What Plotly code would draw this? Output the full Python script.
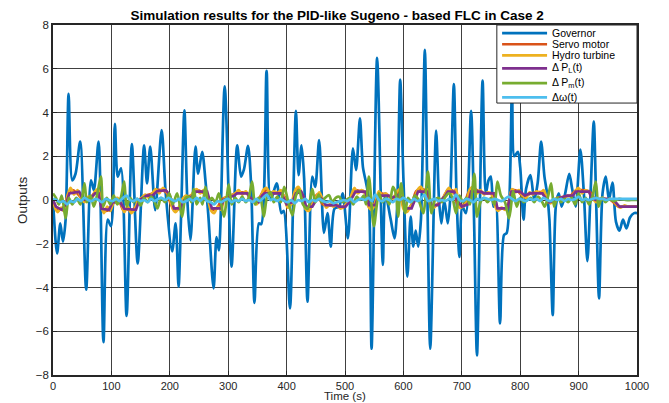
import plotly.graph_objects as go

# ---- data ----
gov_t = [0, 7, 12.5, 17, 21.6, 26.7, 33, 38.6, 46.6, 56.8, 65, 70, 78, 86.4, 93.8, 99.4, 106, 110.8, 116.5, 126,
         135, 145, 156, 161, 166.5, 175, 186, 193, 204, 210, 215, 219, 225, 230, 235.4, 244, 248.6, 255.4, 261, 265.7,
         275, 280, 284, 294, 305.7, 315.4, 322, 327, 334, 339.4, 345, 352.6, 356.6, 365.7, 372.6, 383, 391, 395,
         405.7, 411, 416, 420.5, 425.6, 430, 435.8, 444, 449, 455.7, 464, 470, 475.6, 482, 490, 496, 505,
         513.6, 519, 525.6, 530.7, 536, 541, 545.5, 555, 564.8, 569, 578, 584.7, 589, 594.5, 600, 606.8, 612.4,
         617, 621, 625.4, 630, 636.7, 641, 646, 656, 661, 665, 670, 676, 680, 686.4, 691, 696, 701, 707, 715.8,
         721, 726, 735.6, 741, 745.8, 749.7, 754, 758, 765.5, 772.3, 777, 786, 790, 796, 800, 805.7, 810, 817.6,
         824, 830, 835.8, 841.5, 846, 850, 855.7, 861, 866, 871, 877, 884, 889, 895, 903, 909, 915, 920, 926,
         930, 935, 941, 946.6, 952, 958, 964, 970, 976, 982, 988, 995, 1000]
gov_v = [0, -2.44, -1.07, -1.9, -0.9, 4.85, 0.9, 1.2, 2.67, -4.1, 0.9, 0.45, 2.67, -6.5, -0.9, -1.2, 3.48, 1.07, 1.45, -5.3,
         2.56, -2.9, 2.5, 0.76, 2.44, -0.46, 3.2, 0.3, -2.35, -1.07, -3.96, -1.0, 4.1, 0.0, -1.83, 2.44, 1.2, 2.2, 0.9, -0.6,
         -4.04, -1.7, -2.3, 5.2, -3.05, 2.5, 1.07, 1.4, 2.47, 0.6, -4.7, -1.07, -1.1, 5.9, 0.0, 0.76, -0.6, -0.5,
         -4.95, -0.3, 4.08, 1.14, 2.5, 1.0, -4.65, 1.07, 0.6, 2.74, -1.5, -0.6, -2.13, -0.4, -0.3, 0.3, -1.75,
         2.36, 1.37, 3.73, 1.5, 0.8, 0.0, -6.8, 6.5, -2.97, 0.3, -0.85, -1.75, -0.5, 5.5, 1.0, -3.5, -0.76,
         -2.13, -1.4, -2.13, -0.9, 6.86, 0.3, -6.8, 3.17, 0.0, -1.07, 0.0, -1.07, 0.0, 5.3, 0.2, -2.6, -0.3, -0.6, 4.08,
         -0.9, -7.1, 5.46, 0.3, 0.9, 1.07, -0.3, 0.0, -5.64, -1.6, -1.5, 5.0, 2.0, 2.2, 1.5, -0.9, 0.5, 1.14,
         0.0, 0.8, 2.67, 1.07, 0.3, -0.9, -5.26, -0.3, 0.3, -0.3, 0.3, 1.2, 0.5, -0.3, 2.3, 0.3, -2.8, 0.0, 3.58,
         0.0, -4.5, 0.3, 1.07, 0.0, 0.8, -1.0, -1.4, -0.9, -1.3, -0.8, -0.6, -0.6]

servo_t = [0, 4, 8, 14, 20, 26, 32, 40, 48, 56, 64, 72, 78, 84, 90, 98, 106, 114, 120, 126, 134, 142, 150, 160,
           170, 178, 186, 194, 202, 208, 216, 224, 236, 246, 256, 266, 272, 280, 290, 300, 312, 320, 332, 340, 350,
           358, 366, 376, 388, 398, 404, 412, 420, 428, 434, 442, 452, 462, 470, 484, 496, 506, 516, 526, 536, 542,
           550, 558, 570, 582, 592, 600, 606, 614, 622, 630, 640, 648, 658, 668, 676, 686, 694, 702, 714, 722, 732,
           742, 752, 760, 768, 778, 786, 796, 806, 818, 830, 840, 848, 860, 874, 886, 896, 906, 918, 928, 940, 955,
           968, 980, 1000]
servo_v = [0, -0.3, -0.5, -0.4, -0.3, 0.3, 0.45, 0.35, 0.1, -0.05, 0.1, 0.35, 0.45, -0.3, -0.5, -0.4, -0.05, -0.1,
           -0.45, -0.4, -0.5, -0.3, 0.05, 0.2, 0.3, 0.45, 0.45, 0.35, -0.2, -0.45, -0.4, 0.1, 0.2, 0.45, 0.35, 0.15,
           -0.45, -0.4, 0.05, 0.15, 0.3, 0.35, 0.3, -0.05, -0.05, 0.3, 0.45, 0.3, 0.35, 0.1, -0.3, 0.0, 0.5, 0.2,
           -0.4, -0.3, 0.25, -0.2, -0.25, -0.25, -0.35, -0.1, 0.45, 0.4, 0.3, -0.35, -0.2, 0.3, 0.25, 0.1, 0.4,
           -0.3, -0.45, -0.2, 0.4, 0.5, 0.4, -0.35, -0.2, 0.1, 0.45, 0.4, -0.3, -0.25, 0.45, 0.5, 0.35, 0.3, 0.3,
           -0.4, -0.4, -0.35, 0.45, 0.4, 0.15, 0.3, 0.35, 0.35, -0.1, 0.05, 0.15, 0.2, 0.45, 0.45, 0.4, 0.05,
           0.05, 0.0, -0.3, -0.3, -0.3]

hydro_t = [0, 4, 8, 14, 18, 24, 30, 36, 42, 48, 54, 60, 66, 72, 77, 82, 87, 93, 98, 104, 110, 116, 122, 128, 134,
           140, 146, 152, 158, 164, 170, 176, 182, 188, 194, 200, 205, 210, 216, 222, 228, 234, 240, 246, 252, 258,
           264, 270, 276, 282, 288, 294, 300, 306, 312, 318, 324, 330, 336, 342, 348, 354, 360, 366, 372, 378, 384,
           390, 396, 402, 408, 414, 420, 426, 432, 438, 444, 450, 456, 462, 468, 474, 480, 486, 492, 498, 504, 510,
           516, 522, 528, 534, 540, 546, 552, 558, 564, 570, 576, 582, 588, 594, 600, 606, 612, 618, 624, 630, 636,
           642, 648, 654, 660, 666, 672, 678, 684, 690, 696, 702, 708, 714, 720, 726, 732, 738, 744, 750, 756, 762,
           768, 774, 780, 786, 792, 798, 804, 810, 816, 822, 828, 834, 840, 846, 852, 858, 864, 870, 876, 882, 888,
           894, 900, 906, 912, 918, 924, 930, 936, 942, 948, 954, 960, 966, 972, 978, 984, 990, 1000]
hydro_v = [0, -0.4, -0.55, -0.35, -0.5, 0.1, 0.55, 0.25, 0.45, 0.1, -0.1, 0.15, 0.05, 0.4, 0.5, -0.2, -0.6, -0.3,
           -0.5, -0.05, 0.1, -0.1, -0.55, -0.3, -0.6, -0.4, 0.0, 0.1, 0.25, 0.1, 0.3, 0.5, 0.3, 0.55, 0.4, 0.1, -0.4,
           -0.55, -0.3, 0.05, 0.2, 0.1, 0.35, 0.5, 0.3, 0.45, 0.2, -0.45, -0.6, -0.3, -0.45, 0.1, 0.05, 0.2, 0.3,
           0.45, 0.25, 0.4, 0.15, -0.05, -0.2, 0.0, 0.45, 0.55, 0.25, 0.4, 0.3, 0.45, 0.1, -0.35, -0.2, 0.4, 0.6,
           0.3, -0.4, -0.5, -0.2, 0.1, 0.35, 0.0, -0.35, -0.2, -0.3, -0.2, -0.4, -0.3, -0.1, 0.15, 0.55, 0.3, 0.45,
           0.35, -0.3, -0.45, -0.1, 0.4, 0.2, 0.3, 0.15, 0.05, 0.35, 0.5, -0.4, -0.55, -0.3, -0.1, 0.45, 0.6, 0.3,
           0.5, -0.4, -0.3, -0.15, 0.0, 0.3, 0.55, 0.3, 0.5, -0.35, -0.3, -0.1, 0.5, 0.6, 0.3, 0.45, 0.25, 0.35,
           0.3, -0.2, -0.5, -0.35, -0.45, -0.1, 0.5, 0.35, 0.45, 0.2, 0.1, 0.35, 0.25, 0.4, 0.3, 0.45, 0.05, -0.15,
           0.0, 0.1, 0.0, 0.1, 0.2, 0.15, 0.4, 0.55, 0.3, 0.45, 0.35, 0.1, -0.1, 0.05, 0.1, 0.0, 0.05, -0.05, -0.25,
           -0.35, -0.25, -0.3, -0.3, -0.3]

pl_t = [0, 5, 15, 22, 28, 45, 50, 55, 65, 72, 78, 83, 96, 102, 115, 122, 142, 148, 155, 160, 170, 178, 193, 198,
        203, 207, 218, 225, 235, 245, 264, 268, 272, 287, 292, 300, 310, 315, 333, 338, 345, 352, 358, 362, 390,
        395, 400, 410, 416, 425, 430, 433, 444, 450, 455, 462, 467, 484, 490, 501, 510, 518, 535, 538, 541, 552,
        556, 560, 575, 580, 590, 598, 603, 614, 620, 625, 642, 645, 648, 659, 665, 672, 676, 687, 692, 700, 710,
        716, 733, 738, 755, 758, 761, 778, 782, 785, 800, 808, 816, 838, 843, 850, 860, 870, 880, 890, 895, 918,
        922, 930, 940, 950, 960, 970, 1000]
pl_v = [0, -0.3, -0.45, -0.2, 0.3, 0.38, 0.1, 0.0, 0.1, 0.3, 0.3, -0.4, -0.45, -0.1, -0.1, -0.4, -0.45, 0.0, 0.1,
        0.2, 0.2, 0.4, 0.45, 0.3, 0.0, -0.38, -0.38, 0.0, 0.1, 0.38, 0.38, 0.0, -0.38, -0.38, 0.0, 0.1, 0.2, 0.3,
        0.3, 0.1, 0.0, -0.1, 0.2, 0.3, 0.3, 0.1, -0.2, -0.1, 0.3, 0.38, 0.1, -0.3, -0.3, 0.0, 0.2, 0.0, -0.23,
        -0.23, -0.3, -0.3, 0.0, 0.38, 0.38, 0.0, -0.23, -0.23, 0.1, 0.2, 0.2, 0.1, 0.2, 0.1, -0.38, -0.38, 0.0,
        0.38, 0.38, 0.0, -0.23, -0.23, 0.0, 0.2, 0.38, 0.38, 0.0, -0.3, -0.2, 0.38, 0.38, 0.3, 0.3, 0.0, -0.38,
        -0.38, 0.0, 0.38, 0.38, 0.2, 0.3, 0.3, 0.1, -0.1, 0.0, 0.1, 0.2, 0.2, 0.38, 0.38, 0.1, 0.0, 0.05, 0.05,
        0.0, -0.3, -0.3]

pm_t = [0, 5, 10, 15, 21.6, 27, 33, 40, 47, 54, 58, 64, 70, 76, 82, 86, 92, 98, 104, 110, 116, 122, 126, 132,
        138, 144, 150, 156, 162, 168, 174, 179, 185, 192, 199, 205, 212.6, 221, 227, 232.6, 237, 241, 246, 252,
        256, 261, 266, 272, 278, 284, 292.6, 301, 306, 312, 318, 324, 330, 335, 341, 346, 352, 356, 361, 367,
        372.6, 378, 384, 390, 396, 403, 410, 416, 421.6, 428, 436, 444, 449, 455, 460, 466, 472.7, 478, 484, 490,
        496, 502, 508, 514, 520, 526, 532, 536, 541, 549.4, 558, 564, 570, 576, 582, 587, 591, 596, 603, 608,
        614, 620, 626, 634, 642, 648, 654, 660, 666, 672, 678, 684, 690, 696, 702, 708, 714, 721.5, 726, 732,
        738, 744, 750, 756, 761, 767, 774, 781, 788, 794, 800, 806, 812, 818, 824, 830, 836, 842, 848, 853,
        858, 864, 870, 876, 882, 888, 894, 900, 906, 912, 918, 924, 929.5, 934, 940, 946, 952, 960, 970, 980,
        990, 1000]
pm_v = [0.3, 0.1, -0.2, 0.2, -0.84, 0.1, -0.2, 0.1, -0.2, 0.76, -0.1, 0.2, -0.3, 0.3, 1.07, -0.3, 0.1, -0.2, 0.2,
        -0.2, 0.1, 0.84, -0.3, 0.1, -0.1, 0.05, -0.25, 0.1, -0.1, 0.15, -0.1, -0.38, 0.1, -0.1, 0.3, -0.2, 0.3,
        -0.76, 0.1, 0.15, -0.1, 0.5, -0.2, 0.1, -0.2, 0.6, -0.1, 0.1, -0.1, 0.3, -0.76, 0.7, -0.2, 0.1, -0.1,
        0.15, -0.1, 0.1, 0.84, -0.2, 0.1, 0.0, -0.76, 0.2, 0.35, -0.1, 0.15, -0.1, 0.6, -0.1, -0.7, 0.2, 0.45,
        -0.2, -0.4, 0.5, -0.1, 0.25, -0.1, 0.1, 0.22, -0.1, 0.1, 0.15, -0.1, 0.0, 0.1, -0.2, 0.15, 0.0, 0.2,
        -0.2, 1.07, -1.2, 0.3, -0.1, 0.1, -0.2, 0.6, 0.3, -0.76, 0.76, -0.6, 0.1, -0.1, 0.2, 0.0, -0.6, 1.3,
        -0.6, 0.0, 0.1, -0.1, 0.15, 0.3, 0.1, -0.6, 0.2, -0.1, 0.1, -0.2, 1.2, -0.76, -0.1, 0.1, -0.1, 0.1,
        -0.2, 0.84, 0.2, -0.1, -0.84, 0.4, -0.3, 0.1, -0.1, 0.0, 0.1, -0.1, 0.15, 0.0, -0.3, 0.2, 0.76, -0.3,
        0.1, -0.1, 0.05, -0.1, 0.1, -0.2, 0.3, -0.1, 0.1, -0.2, 0.2, 0.84, -0.3, 0.1, -0.1, 0.05, -0.05, 0.05,
        0.0, 0.0, 0.0]

dw_t = [0, 6, 12, 18, 24, 30, 36, 42, 48, 54, 60, 66, 72, 78, 84, 90, 96, 102, 108, 114, 120, 126, 132, 138, 144,
        150, 156, 162, 168, 174, 180, 186, 192, 198, 204, 210, 216, 222, 228, 234, 240, 246, 252, 258, 264, 270,
        276, 282, 288, 294, 300, 306, 312, 318, 324, 330, 336, 342, 348, 354, 360, 366, 372, 378, 384, 390, 396,
        402, 408, 414, 420, 426, 432, 438, 444, 450, 456, 462, 468, 474, 480, 486, 492, 498, 504, 510, 516, 522,
        528, 534, 540, 546, 552, 558, 564, 570, 576, 582, 588, 594, 600, 606, 612, 618, 624, 630, 636, 642, 648,
        654, 660, 666, 672, 678, 684, 690, 696, 702, 708, 714, 720, 726, 732, 738, 744, 750, 756, 762, 768, 774,
        780, 786, 792, 798, 804, 810, 816, 822, 828, 834, 840, 846, 852, 858, 864, 870, 876, 882, 888, 894, 900,
        906, 912, 918, 924, 930, 936, 942, 948, 954, 960, 966, 972, 978, 984, 990, 996, 1000]
dw_v = [0.05, 0.0, -0.1, -0.05, -0.2, -0.05, -0.1, 0.05, -0.05, 0.1, 0.0, -0.05, 0.05, 0.0, -0.1, 0.05, 0.0, -0.05,
        0.05, -0.05, 0.1, 0.2, 0.0, -0.05, 0.05, -0.05, 0.0, -0.1, 0.05, -0.05, 0.05, 0.1, 0.0, 0.1, 0.0, -0.05,
        0.05, -0.1, -0.05, 0.05, -0.05, 0.1, -0.05, 0.1, -0.05, -0.1, -0.2, -0.05, -0.1, 0.0, 0.05, -0.1, 0.0,
        -0.05, 0.05, -0.05, 0.0, -0.1, 0.05, -0.05, 0.1, 0.25, 0.0, 0.05, -0.05, 0.05, -0.05, -0.1, 0.0, -0.15,
        0.0, -0.05, 0.05, -0.1, 0.0, -0.05, 0.05, -0.05, -0.1, -0.05, -0.15, -0.1, -0.05, 0.0, -0.05, 0.05, -0.1,
        0.0, 0.05, 0.0, 0.1, -0.05, 0.25, 0.0, -0.05, 0.05, 0.0, -0.1, 0.05, 0.0, 0.1, 0.0, -0.1, 0.05, -0.05,
        0.05, 0.25, -0.05, 0.0, 0.05, -0.05, 0.0, -0.05, 0.05, 0.0, 0.25, 0.0, -0.05, 0.05, 0.0, -0.1, 0.05, 0.0,
        0.1, 0.05, 0.0, 0.05, 0.0, -0.05, 0.05, 0.15, 0.05, -0.05, 0.05, 0.0, -0.05, 0.05, 0.0, 0.05, -0.05, 0.1,
        0.0, -0.05, 0.05, 0.0, 0.05, -0.05, 0.05, 0.0, 0.05, 0.15, 0.0, 0.05, 0.0, 0.05, 0.1, 0.05, 0.05, 0.0,
        0.05, 0.05, 0.05, 0.05, 0.05, 0.05, 0.05, 0.05, 0.05]

names = ["Governor", "Servo motor", "Hydro turbine", "Δ P<sub>L</sub>(t)", "Δ P<sub>m</sub>(t)", "Δω(t)"]
colors = ["#0072BD", "#D95319", "#EDB120", "#7E2F8E", "#77AC30", "#4DBEEE"]
series = [(gov_t, gov_v), (servo_t, servo_v), (hydro_t, hydro_v), (pl_t, pl_v), (pm_t, pm_v), (dw_t, dw_v)]
shapes_line = ["spline", "spline", "spline", "linear", "spline", "spline"]

x_ticks = [0, 100, 200, 300, 400, 500, 600, 700, 800, 900, 1000]
y_ticks = [-8, -6, -4, -2, 0, 2, 4, 6, 8]

fig = go.Figure()
for (t, v), n, c, s in zip(series, names, colors, shapes_line):
    fig.add_trace(go.Scatter(x=t, y=v, mode="lines", name=n, showlegend=False,
                             line=dict(color=c, width=2.7, shape=s, smoothing=0.8 if s == "spline" else None)))

font = "Liberation Sans, Arial, sans-serif"
axis_common = dict(showline=True, linecolor="#262626", linewidth=1.5, mirror=True, automargin=False,
                   showgrid=True, gridcolor="rgba(30,30,30,0.85)", gridwidth=1,
                   ticks="inside", ticklen=4, tickcolor="#262626", zeroline=False)
fig.update_xaxes(range=[0, 1000], tickvals=x_ticks, **axis_common,
                 tickfont=dict(family=font, size=11, color="#262626"))
fig.update_yaxes(range=[-8, 8], tickvals=y_ticks, **axis_common,
                 tickfont=dict(family=font, size=11.5, color="#262626"))

# legend drawn as a compact box (layout decoration, paper coordinates)
leg_x0, leg_x1, leg_y0, leg_y1 = 0.760, 1.0, 0.777, 1.0
row_y = [0.977, 0.945, 0.913, 0.876, 0.834, 0.793]
line_x0, line_x1, text_x = 0.769, 0.846, 0.851
shapes = [dict(type="rect", xref="paper", yref="paper", x0=leg_x0, x1=leg_x1, y0=leg_y0, y1=leg_y1,
               fillcolor="white", line=dict(color="#262626", width=1), layer="above")]
annotations = []
for n, c, ry in zip(names, colors, row_y):
    shapes.append(dict(type="line", xref="paper", yref="paper", x0=line_x0, x1=line_x1, y0=ry, y1=ry,
                       line=dict(color=c, width=2.7), layer="above"))
    annotations.append(dict(text=n, xref="paper", yref="paper", x=text_x, y=ry, xanchor="left",
                            yanchor="middle", showarrow=False,
                            font=dict(family=font, size=10.5, color="black")))

# axis titles
annotations.append(dict(text="Time (s)", xref="paper", yref="paper", x=0.5, y=-0.061, xanchor="center",
                        yanchor="middle", showarrow=False, font=dict(family=font, size=11.5, color="#262626")))
annotations.append(dict(text="Outputs", xref="paper", yref="paper", x=-0.053, y=0.5, xanchor="center",
                        yanchor="middle", textangle=-90, showarrow=False,
                        font=dict(family=font, size=13.5, color="#262626")))

# the page adds an 8px body margin, so the figure is sized to fit the 669x403 window
fig.update_layout(
    width=661, height=395,
    margin=dict(l=45, r=32, t=17, b=28),
    paper_bgcolor="white", plot_bgcolor="white",
    title=dict(text="<b>Simulation results for the PID-like Sugeno - based FLC in Case 2</b>",
               x=0.498, xanchor="center", xref="container", y=0.981, yanchor="middle",
               font=dict(family=font, size=13.5, color="black")),
    shapes=shapes, annotations=annotations,
    showlegend=False,
)

fig.write_html("out.html")
